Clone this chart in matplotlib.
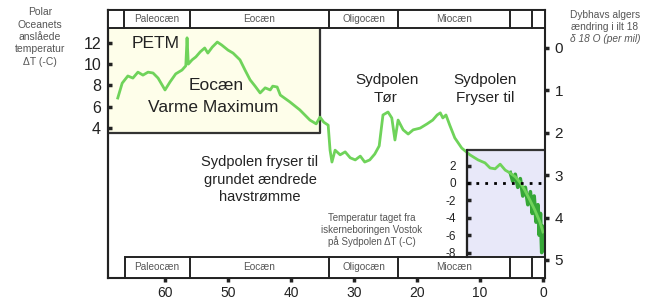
import matplotlib
matplotlib.use("Agg")
import matplotlib.pyplot as plt
from matplotlib.patches import Rectangle
import matplotlib.transforms as mtransforms

plt.rcParams['font.family'] = ['Liberation Sans', 'DejaVu Sans']
plt.rcParams['axes.unicode_minus'] = False

# ---- data ----
age = [67.5, 66.8, 65.9, 65.1, 64.3, 63.5, 62.7, 61.9, 61.1, 60.0, 59.2, 58.3, 57.3, 56.7,
       56.5, 56.3, 55.7, 55.1, 54.4, 53.7, 53.2, 52.5, 51.7, 51.0, 50.0, 49.2, 48.1, 47.3,
       46.5, 45.7, 44.9, 44.1, 43.3, 42.9, 42.2, 41.7, 40.2, 38.6, 37.0, 36.0, 35.4, 34.8,
       34.1, 33.8, 33.5, 33.0, 32.2, 31.4, 30.6, 29.8, 29.0, 28.3, 27.5, 26.7, 26.0, 25.4,
       24.6, 24.0, 23.5, 23.0, 22.2, 21.4, 20.6, 19.5, 18.4, 17.5, 16.8, 16.3, 15.9, 15.4,
       14.8, 14.0, 12.9, 11.6, 10.3, 9.2, 8.4, 7.6, 6.8, 6.0, 5.2, 4.4, 3.7, 2.9, 2.1,
       1.3, 0.5, 0.0]
d18o = [1.18, 0.83, 0.66, 0.71, 0.57, 0.64, 0.57, 0.59, 0.71, 0.99, 0.80, 0.61, 0.52, 0.42,
        -0.24, 0.38, 0.28, 0.21, 0.09, 0.00, 0.12, -0.02, -0.14, -0.07, 0.05, 0.12, 0.28, 0.52,
        0.75, 0.90, 1.06, 0.94, 0.99, 0.90, 0.92, 1.11, 1.27, 1.46, 1.70, 1.79, 1.63, 1.75,
        1.82, 2.41, 2.69, 2.41, 2.52, 2.45, 2.59, 2.64, 2.55, 2.69, 2.64, 2.50, 2.31, 1.58,
        1.51, 1.65, 2.17, 1.70, 1.93, 2.03, 1.93, 1.89, 1.79, 1.70, 1.58, 1.53, 1.65, 1.58,
        1.82, 2.12, 2.36, 2.52, 2.64, 2.71, 2.83, 2.85, 2.74, 2.88, 2.95, 3.04, 3.16, 3.35, 3.58,
        3.82, 4.10, 4.34]

vostok_age = [5.2, 4.8, 4.4, 4.0, 3.6, 3.2, 2.8, 2.4, 2.0, 1.7, 1.4, 1.1, 0.8,
              0.6, 0.4, 0.2, 0.0]
vostok_T = [1.2, 0.2, 1.0, -0.5, 0.5, -1.5, -0.5, -2.5, -1.0, -3.5, -1.5, -4.5,
            -2.5, -6.0, -3.5, -8.0, -5.0]

epoch_names = ["", "Paleocæn", "Eocæn", "Oligocæn", "Miocæn", "", ""]
epoch_bounds = [69.05, 66.5, 56.0, 34.0, 23.0, 5.3, 1.8, -0.32]

x_ticks = [60, 50, 40, 30, 20, 10, 0]
right_ticks = [0, 1, 2, 3, 4, 5]
left_ticks = [12, 10, 8, 6, 4]
vostok_ticks = [2, 0, -2, -4, -6, -8]

W, H = 657, 301
fig = plt.figure(figsize=(W / 100, H / 100), dpi=100)

def fx(p):
    return p / W

def fy(p):
    return 1 - p / H

ax = fig.add_axes([fx(108), fy(278), 437 / W, 268 / H])
ax.set_xlim(69.05, -0.32)
ax.set_ylim(5.425, -0.896)

for s in ax.spines.values():
    s.set_linewidth(1.5)
    s.set_color('#222222')

ax.set_xticks(x_ticks)
ax.set_xticklabels([str(t) for t in x_ticks])
ax.tick_params(axis='x', direction='out', length=3, width=2.5, pad=3, labelsize=10, colors='#222222')
ax.yaxis.tick_right()
ax.set_yticks(right_ticks)
ax.tick_params(axis='y', direction='out', length=3, width=2.5, pad=4, labelsize=11, colors='#222222')

# left temperature axis
def d2T(d):
    return 11.529 - 3.990 * d

def T2d(T):
    return (11.529 - T) / 3.990

sec = ax.secondary_yaxis('left', functions=(d2T, T2d))
sec.set_yticks(left_ticks)
sec.tick_params(direction='in', length=3, width=2.5, pad=5, labelsize=11.5, colors='#222222')
sec.spines['left'].set_linewidth(1.5)

blend = mtransforms.blended_transform_factory(ax.transData, ax.transAxes)

# yellow box
ax.add_patch(Rectangle((69.05, -0.47), 35.4 - 69.05, 2.0 + 0.47, facecolor='#fefeea',
                       edgecolor='none', zorder=0))
ax.plot([35.4, 35.4, 69.05], [-0.47, 2.0, 2.0], color='#333333', lw=1.6, zorder=1)

# lavender box
ax.add_patch(Rectangle((12.06, 2.41), -0.32 - 12.06, 4.93 - 2.41, facecolor='#e8e8f9',
                       edgecolor='none', zorder=0))
ax.plot([-0.32, 12.06, 12.06], [2.41, 2.41, 4.93], color='#333333', lw=1.6, zorder=1)

# epoch bands
band_top = (1.0, 1 - 18 / 268)
band_bot = (21 / 268, 0.0)
for (ytop, ybot), first in [(band_top, 0), (band_bot, 1)]:
    left = 66.3 if first == 1 else epoch_bounds[0]
    ax.add_patch(Rectangle((left, ybot), -0.32 - left, ytop - ybot, transform=blend,
                           facecolor='white', edgecolor='#222222', lw=1.4, zorder=3,
                           clip_on=False))
    for b in epoch_bounds[1:-1]:
        if first == 1 and b > 66.3:
            continue
        ax.plot([b, b], [ybot, ytop], transform=blend, color='#222222', lw=1.4, zorder=4)
    for i, name in enumerate(epoch_names):
        if name:
            xc = (epoch_bounds[i] + epoch_bounds[i + 1]) / 2
            ax.text(xc, (ytop + ybot) / 2, name, transform=blend, ha='center', va='center',
                    fontsize=7.2, color='#555555', zorder=5)

# inset for Vostok scale
axi = fig.add_axes([fx(467), fy(257), 78 / W, 107 / H])
axi.set_facecolor('none')
axi.set_xlim(12.06, -0.32)
axi.set_ylim(-8.51, 3.79)
for k in ['top', 'right', 'bottom']:
    axi.spines[k].set_visible(False)
axi.spines['left'].set_linewidth(1.5)
axi.spines['left'].set_color('#222222')
axi.set_xticks([])
axi.set_yticks(vostok_ticks)
axi.tick_params(axis='y', direction='in', length=3, width=2.5, pad=8, labelsize=8.5,
                colors='#222222')
axi.axhline(0, color='black', lw=2, ls=(0, (1, 2.2)), zorder=3)

# vostok series (dark green), drawn in main axes using inset scale
ax.plot(vostok_age, vostok_T, transform=axi.transData, color='#22a022', lw=2.6,
        zorder=2, solid_joinstyle='round', alpha=0.9)

# main curve
ax.plot(age, d18o, color='#6fd35a', lw=2.0, zorder=2.5, solid_joinstyle='round')

# annotations
tc = '#222222'
fig.text(fx(132), fy(43), "PETM", fontsize=12.5, color=tc, ha='left', va='center')
fig.text(fx(216), fy(85), "Eocæn", fontsize=12.5, color=tc, ha='center', va='center')
fig.text(fx(213), fy(107), "Varme Maximum", fontsize=12.5, color=tc, ha='center', va='center')
fig.text(fx(387), fy(80), "Sydpolen", fontsize=11, color=tc, ha='center', va='center')
fig.text(fx(386), fy(98), "Tør", fontsize=11, color=tc, ha='center', va='center')
fig.text(fx(485), fy(80), "Sydpolen", fontsize=11, color=tc, ha='center', va='center')
fig.text(fx(485), fy(98), "Fryser til", fontsize=11, color=tc, ha='center', va='center')
fig.text(fx(260), fy(162), "Sydpolen fryser til", fontsize=10.5, color=tc, ha='center', va='center')
fig.text(fx(260), fy(180), "grundet ændrede", fontsize=10.5, color=tc, ha='center', va='center')
fig.text(fx(260), fy(197), "havstrømme", fontsize=10.5, color=tc, ha='center', va='center')

sc = '#555555'
for i, line in enumerate(["Temperatur taget fra", "iskerneboringen Vostok", "på Sydpolen ΔT (-C)"]):
    fig.text(fx(372), fy(218 + 12 * i), line, fontsize=7, color=sc, ha='center', va='center')
for i, line in enumerate(["Polar", "Oceanets", "anslåede", "temperatur", "ΔT (-C)"]):
    fig.text(fx(40), fy(12 + 12.5 * i), line, fontsize=7.5, color=sc, ha='center', va='center')
fig.text(fx(605), fy(15), "Dybhavs algers", fontsize=7.3, color=sc, ha='center', va='center')
fig.text(fx(605), fy(27), "ændring i ilt 18", fontsize=7.3, color=sc, ha='center', va='center')
fig.text(fx(605), fy(39), "δ 18 O (per mil)", fontsize=7.3, color=sc, ha='center', va='center',
         style='italic')

fig.savefig("out.png", dpi=100)
